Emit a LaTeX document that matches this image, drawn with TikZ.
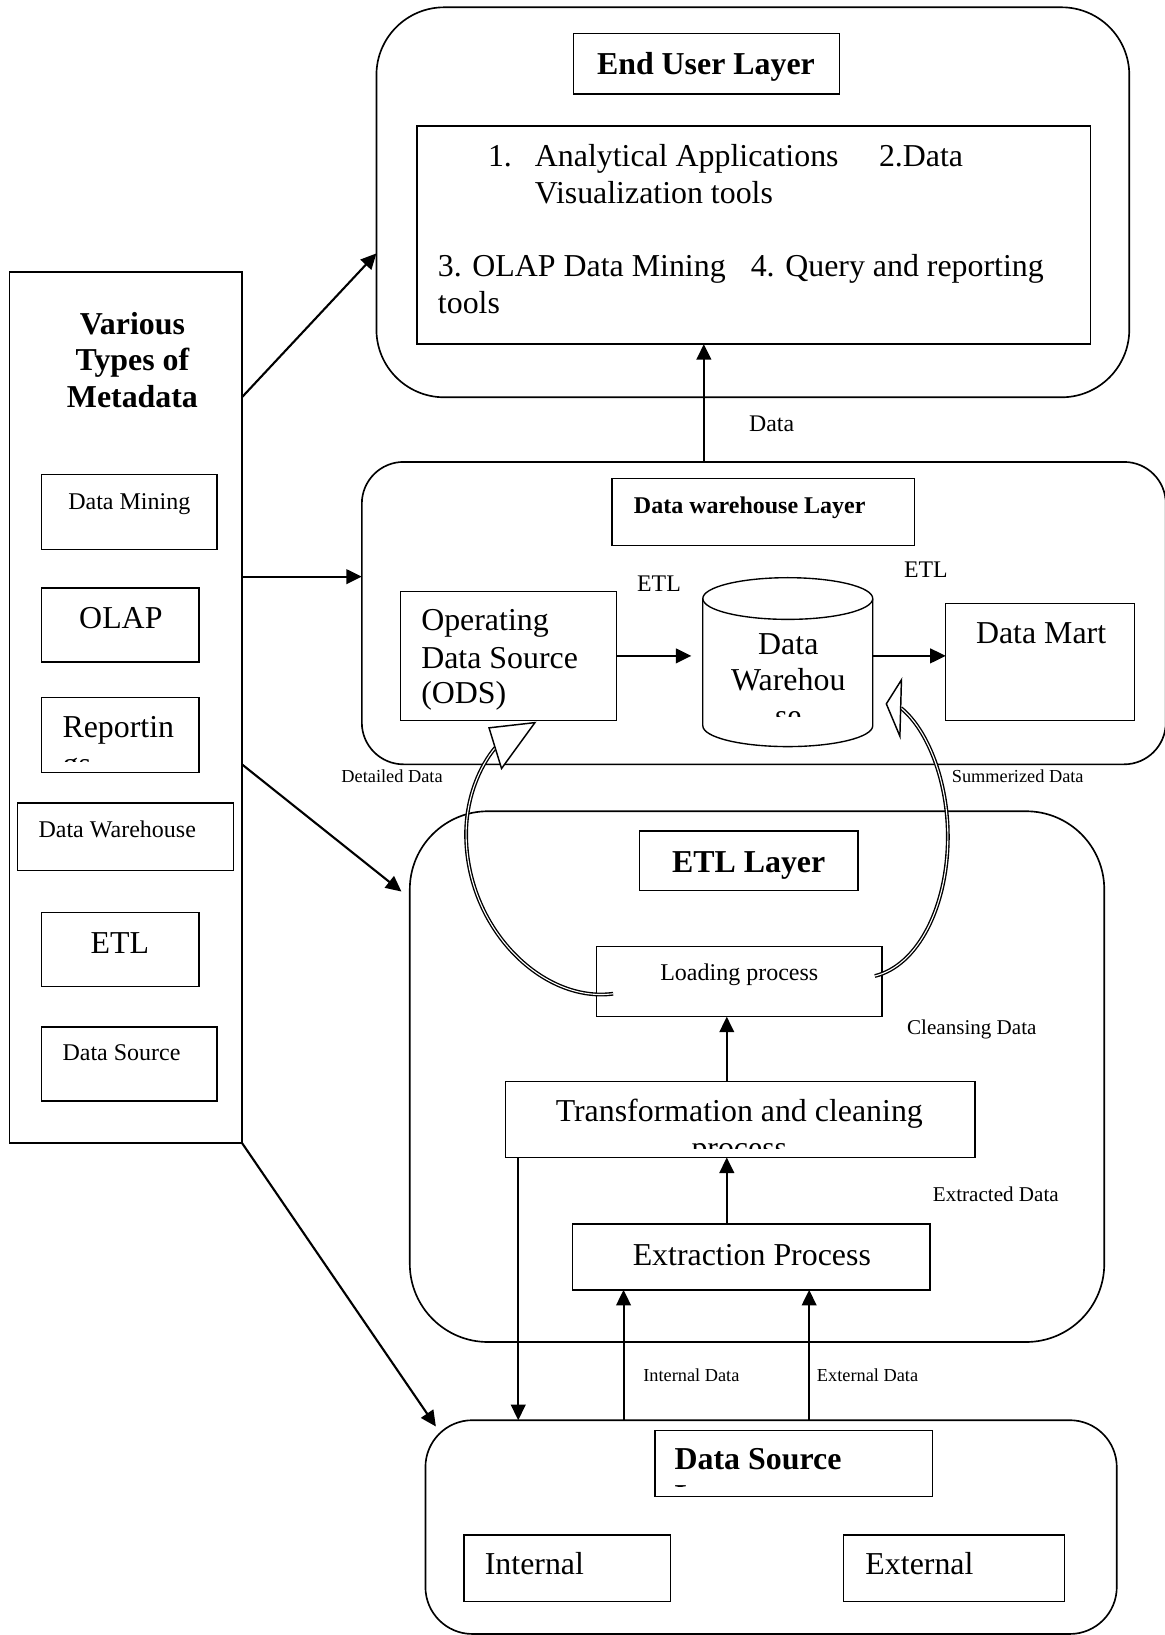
\documentclass[tikz,border=0pt]{standalone}
\usepackage{fontspec}
\setmainfont{Liberation Serif}
\usetikzlibrary{arrows.meta,fit}
\newcommand{\fsA}{\fontsize{17.4pt}{20pt}\selectfont}
\newcommand{\fsB}{\fontsize{13.1pt}{16pt}\selectfont}
\newcommand{\fsC}{\fontsize{13pt}{15pt}\selectfont}
\newcommand{\fsD}{\fontsize{11.5pt}{14pt}\selectfont}
\newcommand{\fsE}{\fontsize{10pt}{12pt}\selectfont}
\begin{document}
\begin{tikzpicture}[x=0.02cm,y=-0.02cm,
  layer/.style={draw, line width=0.9pt, inner sep=0pt, outer sep=0pt},
  box/.style={draw, line width=0.75pt, inner sep=0pt, outer sep=0pt},
  tw/.style={inner sep=0pt, outer sep=0pt, anchor=base west},
  tc/.style={inner sep=0pt, outer sep=0pt, anchor=base},
  arr/.style={line width=1.15pt, -{Triangle[length=8.5pt,width=8pt]}},
  dbl/.style={line width=0.75pt, double=white, double distance=0.6pt},
  head/.style={draw, line width=0.8pt, fill=white, line join=miter}]
\useasboundingbox (0,0) rectangle (1117,1568);

% ---------------- layers ----------------
\node[layer, rounded corners=1.3cm, fit={(361,7)(1083,381)}] (eul) {};
\node[layer, rounded corners=0.8cm, fit={(347,443)(1118,733)}] (dwl) {};
\node[layer, rounded corners=1.5cm, fit={(393,778)(1059,1287)}] (etll) {};
\node[layer, rounded corners=0.9cm, fit={(408,1362)(1071,1567)}] (dsl) {};
\node[box, fit={(9,261)(232,1096)}] (meta) {};

% ---------------- End user layer ----------------
\node[box, fit={(550,32)(805,90)}] (eut) {};
\node[tc, font=\fsA\bfseries] (eutx) at (677,71) {End User Layer};
\node[box, fit={(400,121)(1046,330)}] (eubox) {};
\node[tw, font=\fsA] (eu1) at (468,160) {1.};
\node[tw, font=\fsA] (eu2) at (513,160) {Analytical Applications};
\node[tw, font=\fsA] (eu3) at (843,160) {2.Data};
\node[tw, font=\fsA] (eu4) at (513,195) {Visualization tools};
\node[tw, font=\fsA] (eu5) at (420,265) {3. OLAP Data Mining};
\node[tw, font=\fsA] (eu6) at (720,265) {4. Query and reporting};
\node[tw, font=\fsA] (eu7) at (420,301) {tools};

% ---------------- Data warehouse layer ----------------
\node[box, fit={(587,459)(877,523)}] (dwt) {};
\node[tw, font=\fsB\bfseries] (dwtx) at (608,492.5) {Data warehouse Layer};
\node[box, fit={(384,567)(591,691)}] (ods) {};
\node[tw, font=\fsA] (ods1) at (404,605) {Operating};
\node[tw, font=\fsA] (ods2) at (404,641) {Data Source};
\node[tw, font=\fsA] (ods3) at (404,675) {(ODS)};
\node[inner sep=0pt, fit={(674,554)(837,716)}] (dwc) {};
\draw[line width=0.75pt] (674,574) -- (674,696)
   arc[start angle=180, end angle=360, x radius=1.63cm, y radius=0.4cm] -- (837,574);
\draw[line width=0.75pt] (755.5,574) ellipse [x radius=1.63cm, y radius=0.4cm];
\node[tc, font=\fsA] (dw1) at (756,628) {Data};
\node[tc, font=\fsA] (dw2) at (756,662) {Warehou};
\begin{scope}
  \clip (676,600) rectangle (835,687.5);
  \node[tc, font=\fsA] (dw3) at (756,697) {se};
\end{scope}
\node[box, fit={(907,579)(1088,691)}] (mart) {};
\node[tw, font=\fsA] (martx) at (936,617.5) {Data Mart};
\node[tc, font=\fsC] (etl1) at (632,567) {ETL};
\node[tc, font=\fsC] (etl2) at (888,554) {ETL};
\node[tc, font=\fsC] (datal) at (740,414) {Data};
\node[tc, font=\fsE] (detl) at (376,750) {Detailed Data};
\node[tc, font=\fsE] (suml) at (976,750) {Summerized Data};

% ---------------- ETL layer ----------------
\node[box, fit={(613,797)(823,854)}] (etlt) {};
\node[tc, font=\fsA\bfseries] (etltx) at (718,837) {ETL Layer};
\node[box, fit={(572,908)(846,975)}] (load) {};
\node[tc, font=\fsB] (loadx) at (709,940) {Loading process};
\node[box, fit={(485,1037)(935,1110)}] (trans) {};
\node[tc, font=\fsA] (trans1) at (709,1076) {Transformation and cleaning};
\begin{scope}
  \clip (487,1080) rectangle (933,1101);
  \node[tc, font=\fsA] (trans2) at (709,1111) {process};
\end{scope}
\node[box, fit={(549,1174)(892,1237)}] (ext) {};
\node[tc, font=\fsA] (extx) at (721,1214) {Extraction Process};
\node[tc, font=\fsD] (clnl) at (932,992) {Cleansing Data};
\node[tc, font=\fsD] (extl) at (955,1152) {Extracted Data};
\node[tc, font=\fsE] (intl) at (663,1325) {Internal Data};
\node[tc, font=\fsE] (exll) at (832,1325) {External Data};

% ---------------- Data source layer ----------------
\node[box, fit={(628,1372)(894,1435)}] (dst) {};
\node[tw, font=\fsA\bfseries] (dstx) at (647,1409.5) {Data Source};
\begin{scope}
  \clip (630,1412) rectangle (892,1425.5);
  \node[tw, font=\fsA\bfseries] (dsty) at (647,1444.5) {Layer};
\end{scope}
\node[box, fit={(445,1472)(643,1536)}] (intb) {};
\node[tw, font=\fsA] (intx) at (465,1510) {Internal};
\node[box, fit={(809,1472)(1021,1536)}] (extb) {};
\node[tw, font=\fsA] (extbx) at (830,1510) {External};

% ---------------- metadata panel ----------------
\node[tc, font=\fsA\bfseries] (mv1) at (127,320.5) {Various};
\node[tc, font=\fsA\bfseries] (mv2) at (127,355) {Types of};
\node[tc, font=\fsA\bfseries] (mv3) at (127,390.5) {Metadata};
\node[box, fit={(40,455)(208,527)}] (m1) {};
\node[tw, font=\fsB] (m1x) at (65.5,489) {Data Mining};
\node[box, fit={(40,564)(191,635)}] (m2) {};
\node[tw, font=\fsA] (m2x) at (76,603) {OLAP};
\node[box, fit={(40,669)(191,741)}] (m3) {};
\node[tw, font=\fsA] (m3x) at (60,707) {Reportin};
\begin{scope}
  \clip (42,712) rectangle (189,730);
  \node[tw, font=\fsA] (m3y) at (60,743) {gs};
\end{scope}
\node[box, fit={(17,770)(224,835)}] (m4) {};
\node[tw, font=\fsB] (m4x) at (37,803) {Data Warehouse};
\node[box, fit={(40,875)(191,946)}] (m5) {};
\node[tw, font=\fsA] (m5x) at (87,914) {ETL};
\node[box, fit={(40,985)(208,1056)}] (m6) {};
\node[tw, font=\fsB] (m6x) at (60,1017) {Data Source};

% ---------------- connectors ----------------
\coordinate (x497) at (497,0);
\coordinate (x598) at (598,0);
\coordinate (x675) at (675,0);
\coordinate (x697) at (697,0);
\coordinate (x776) at (776,0);
\coordinate (dwin) at (663,629);

\draw[arr] (dwl.north -| x675) -- (eubox.south -| x675);
\draw[arr] (ods.east) -- (dwin);
\draw[arr] (dwc.east |- ods.east) -- (mart.west |- ods.east);
\draw[arr] (trans.north -| x697) -- (load.south -| x697);
\draw[arr] (ext.north -| x697) -- (trans.south -| x697);
\draw[arr] (dsl.north -| x598) -- (ext.south -| x598);
\draw[arr] (dsl.north -| x776) -- (ext.south -| x776);
\draw[arr] (trans.south -| x497) -- (dsl.north -| x497);

\coordinate (ma) at (232,381);
\coordinate (mb) at (232,553);
\coordinate (mc) at (232,733);
\coordinate (md) at (232,1096);
\coordinate (ta) at (361,243);
\coordinate (tb) at (347,553);
\coordinate (tc) at (385,855);
\coordinate (td) at (418,1368);
\draw[arr] (ma) -- (ta);
\draw[arr] (mb) -- (tb);
\draw[arr] (mc) -- (tc);
\draw[arr] (md) -- (td);

% curved hollow-head arrows from the loading process
\coordinate (lcs) at (588,953);
\coordinate (lcm) at (447,800);
\coordinate (lce) at (475,717);
\coordinate (rcs) at (839,936);
\coordinate (rcm) at (909,802);
\coordinate (rce) at (864,679);
\draw[dbl] (lcs) .. controls (520,962) and (447,890) .. (lcm)
           .. controls (447,765) and (460,735) .. (lce);
\draw[dbl] (rcs) .. controls (880,926) and (909,870) .. (rcm)
           .. controls (909,750) and (890,700) .. (rce);
\draw[head] (469,698) -- (481,737) -- (513,693) -- cycle;
\draw[head] (864.5,652) -- (850,675) -- (863,706) -- cycle;
\end{tikzpicture}
\end{document}
